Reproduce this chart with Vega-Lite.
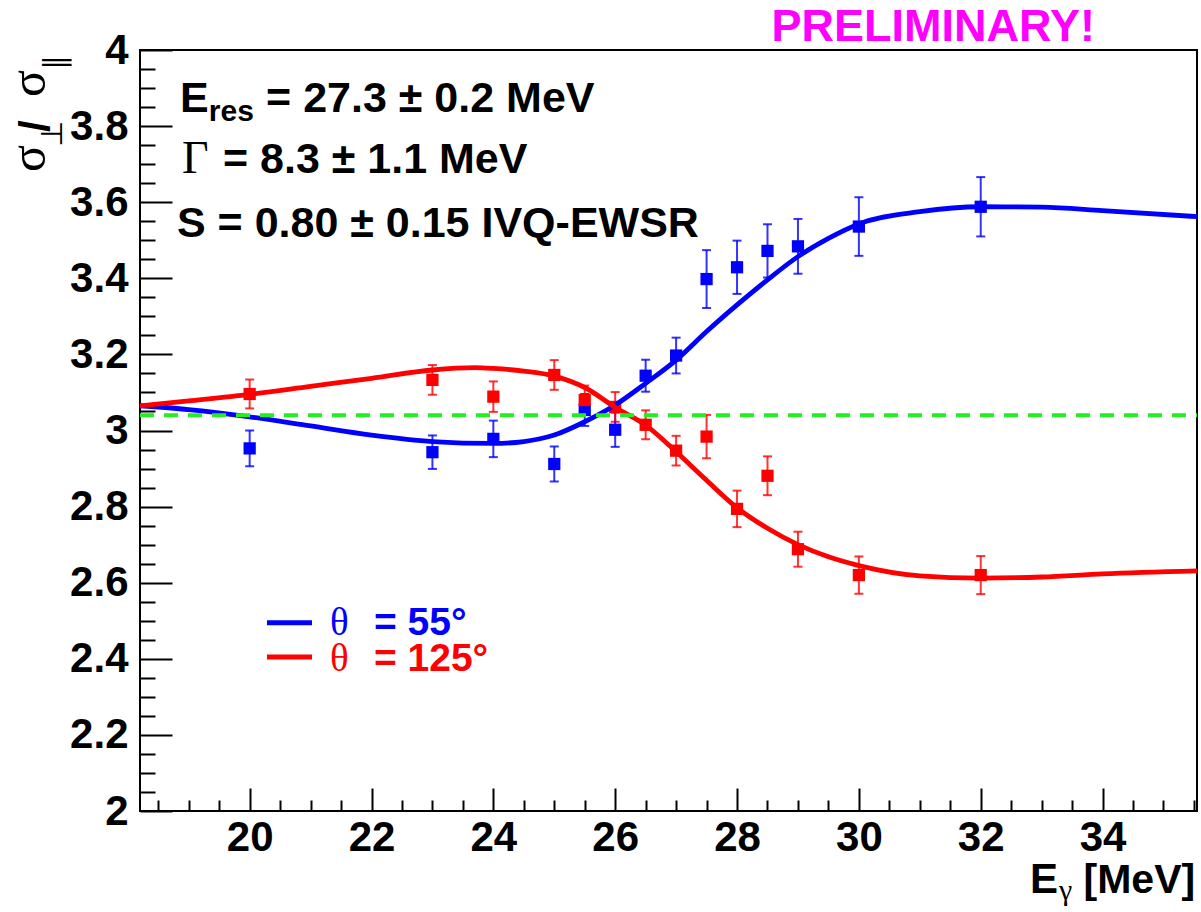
{
  "$schema": "https://vega.github.io/schema/vega-lite/v6.json",
  "width": 1057,
  "height": 761,
  "autosize": {"type": "none"},
  "padding": {"left": 140, "top": 50, "right": 4, "bottom": 101},
  "background": "white",
  "config": {
    "view": {"stroke": "black", "strokeWidth": 2},
    "font": "Liberation Sans",
    "axis": {
      "labelFont": "Liberation Sans",
      "labelFontWeight": "bold",
      "labelFontSize": 42,
      "labelColor": "black",
      "tickColor": "black",
      "tickWidth": 2,
      "domain": false,
      "grid": false,
      "labelFlush": false,
      "labelOverlap": false
    }
  },
  "datasets": {
    "points": [
      {"angle": "55", "E": 20, "r": 2.953, "lo": 2.906, "hi": 3.0},
      {"angle": "55", "E": 23, "r": 2.943, "lo": 2.899, "hi": 2.987},
      {"angle": "55", "E": 24, "r": 2.978, "lo": 2.93, "hi": 3.026},
      {"angle": "55", "E": 25, "r": 2.912, "lo": 2.866, "hi": 2.958},
      {"angle": "55", "E": 25.5, "r": 3.054, "lo": 3.012, "hi": 3.096},
      {"angle": "55", "E": 26, "r": 3.002, "lo": 2.957, "hi": 3.047},
      {"angle": "55", "E": 26.5, "r": 3.144, "lo": 3.102, "hi": 3.186},
      {"angle": "55", "E": 27, "r": 3.197, "lo": 3.15, "hi": 3.244},
      {"angle": "55", "E": 27.5, "r": 3.398, "lo": 3.322, "hi": 3.474},
      {"angle": "55", "E": 28, "r": 3.429, "lo": 3.359, "hi": 3.499},
      {"angle": "55", "E": 28.5, "r": 3.472, "lo": 3.402, "hi": 3.542},
      {"angle": "55", "E": 29, "r": 3.484, "lo": 3.412, "hi": 3.556},
      {"angle": "55", "E": 30, "r": 3.536, "lo": 3.459, "hi": 3.613},
      {"angle": "55", "E": 32, "r": 3.588, "lo": 3.51, "hi": 3.666},
      {"angle": "125", "E": 20, "r": 3.096, "lo": 3.058, "hi": 3.134},
      {"angle": "125", "E": 23, "r": 3.133, "lo": 3.094, "hi": 3.172},
      {"angle": "125", "E": 24, "r": 3.089, "lo": 3.049, "hi": 3.129},
      {"angle": "125", "E": 25, "r": 3.146, "lo": 3.107, "hi": 3.185},
      {"angle": "125", "E": 25.5, "r": 3.08, "lo": 3.042, "hi": 3.118},
      {"angle": "125", "E": 26, "r": 3.062, "lo": 3.023, "hi": 3.101},
      {"angle": "125", "E": 26.5, "r": 3.015, "lo": 2.977, "hi": 3.053},
      {"angle": "125", "E": 27, "r": 2.947, "lo": 2.908, "hi": 2.986},
      {"angle": "125", "E": 27.5, "r": 2.984, "lo": 2.927, "hi": 3.041},
      {"angle": "125", "E": 28, "r": 2.794, "lo": 2.746, "hi": 2.842},
      {"angle": "125", "E": 28.5, "r": 2.881, "lo": 2.83, "hi": 2.932},
      {"angle": "125", "E": 29, "r": 2.688, "lo": 2.642, "hi": 2.734},
      {"angle": "125", "E": 30, "r": 2.62, "lo": 2.571, "hi": 2.669},
      {"angle": "125", "E": 32, "r": 2.62, "lo": 2.57, "hi": 2.67}
    ],
    "fits": [
      {"angle": "55", "E": 18.2, "r": 3.065},
      {"angle": "55", "E": 19, "r": 3.055},
      {"angle": "55", "E": 20, "r": 3.036},
      {"angle": "55", "E": 21, "r": 3.012},
      {"angle": "55", "E": 22, "r": 2.988},
      {"angle": "55", "E": 23, "r": 2.971},
      {"angle": "55", "E": 24, "r": 2.966},
      {"angle": "55", "E": 24.5, "r": 2.971},
      {"angle": "55", "E": 25, "r": 2.988},
      {"angle": "55", "E": 25.5, "r": 3.023},
      {"angle": "55", "E": 26, "r": 3.067},
      {"angle": "55", "E": 26.5, "r": 3.124},
      {"angle": "55", "E": 27, "r": 3.185},
      {"angle": "55", "E": 27.5, "r": 3.26},
      {"angle": "55", "E": 28, "r": 3.33},
      {"angle": "55", "E": 28.5, "r": 3.396},
      {"angle": "55", "E": 29, "r": 3.457},
      {"angle": "55", "E": 29.5, "r": 3.505},
      {"angle": "55", "E": 30, "r": 3.543},
      {"angle": "55", "E": 31, "r": 3.575},
      {"angle": "55", "E": 32, "r": 3.588},
      {"angle": "55", "E": 33, "r": 3.587},
      {"angle": "55", "E": 34, "r": 3.578},
      {"angle": "55", "E": 35.55, "r": 3.562},
      {"angle": "125", "E": 18.2, "r": 3.065},
      {"angle": "125", "E": 19, "r": 3.078},
      {"angle": "125", "E": 20, "r": 3.095},
      {"angle": "125", "E": 21, "r": 3.116},
      {"angle": "125", "E": 22, "r": 3.137},
      {"angle": "125", "E": 23, "r": 3.159},
      {"angle": "125", "E": 23.7, "r": 3.165},
      {"angle": "125", "E": 24, "r": 3.163},
      {"angle": "125", "E": 24.5, "r": 3.156},
      {"angle": "125", "E": 25, "r": 3.143},
      {"angle": "125", "E": 25.5, "r": 3.113},
      {"angle": "125", "E": 26, "r": 3.061},
      {"angle": "125", "E": 26.5, "r": 3.014},
      {"angle": "125", "E": 27, "r": 2.944},
      {"angle": "125", "E": 27.5, "r": 2.869},
      {"angle": "125", "E": 28, "r": 2.797},
      {"angle": "125", "E": 28.5, "r": 2.743},
      {"angle": "125", "E": 29, "r": 2.7},
      {"angle": "125", "E": 29.5, "r": 2.668},
      {"angle": "125", "E": 30, "r": 2.645},
      {"angle": "125", "E": 31, "r": 2.618},
      {"angle": "125", "E": 32, "r": 2.612},
      {"angle": "125", "E": 33, "r": 2.615},
      {"angle": "125", "E": 34, "r": 2.623},
      {"angle": "125", "E": 35.55, "r": 2.631}
    ],
    "isotropic": [
      {"E": 18.2, "r": 3.04},
      {"E": 35.55, "r": 3.04}
    ],
    "legendKey": [
      {"angle": "55", "E": 20.284, "r": 2.495},
      {"angle": "55", "E": 21.023, "r": 2.495},
      {"angle": "125", "E": 20.284, "r": 2.405},
      {"angle": "125", "E": 21.023, "r": 2.405}
    ],
    "one": [{}]
  },
  "resolve": {"axis": {"x": "independent", "y": "independent"}},
  "layer": [
    {
      "data": {"name": "points"},
      "mark": {"type": "errorbar", "ticks": {"size": 9}, "thickness": 2, "opacity": 0.8},
      "encoding": {
        "x": {"field": "E", "type": "quantitative", "scale": {"domain": [18.2, 35.55], "nice": false, "zero": false}, "axis": null},
        "y": {"field": "lo", "type": "quantitative", "scale": {"domain": [2, 4], "nice": false, "zero": false}, "axis": null},
        "y2": {"field": "hi"},
        "color": {"field": "angle", "type": "nominal", "scale": {"domain": ["55", "125"], "range": ["#0000ff", "#ff0000"]}, "legend": null}
      }
    },
    {
      "data": {"name": "points"},
      "mark": {"type": "point", "shape": "square", "filled": true, "size": 150, "opacity": 1},
      "encoding": {
        "x": {"field": "E", "type": "quantitative", "axis": null},
        "y": {"field": "r", "type": "quantitative", "axis": null},
        "color": {"field": "angle", "type": "nominal", "legend": null}
      }
    },
    {
      "data": {"name": "fits"},
      "mark": {"type": "line", "strokeWidth": 4.8, "interpolate": "monotone"},
      "encoding": {
        "x": {"field": "E", "type": "quantitative", "axis": {"orient": "bottom", "values": [20, 22, 24, 26, 28, 30, 32, 34], "format": "d", "tickSize": -23, "labelPadding": 29, "title": null}},
        "y": {"field": "r", "type": "quantitative", "axis": {"orient": "left", "values": [2, 2.2, 2.4, 2.6, 2.8, 3, 3.2, 3.4, 3.6, 3.8, 4], "format": ".1~f", "tickSize": -32, "labelPadding": 44, "title": null}},
        "color": {"field": "angle", "type": "nominal", "legend": null}
      }
    },
    {
      "data": {"name": "isotropic"},
      "mark": {"type": "line", "color": "#22ee22", "strokeWidth": 4, "strokeDash": [14, 10]},
      "encoding": {
        "x": {"field": "E", "type": "quantitative", "axis": {"orient": "bottom", "values": [18.5, 19, 19.5, 20.5, 21, 21.5, 22.5, 23, 23.5, 24.5, 25, 25.5, 26.5, 27, 27.5, 28.5, 29, 29.5, 30.5, 31, 31.5, 32.5, 33, 33.5, 34.5, 35, 35.5], "tickSize": -11, "labels": false, "title": null}},
        "y": {"field": "r", "type": "quantitative", "axis": {"orient": "left", "values": [2.05, 2.1, 2.15, 2.25, 2.3, 2.35, 2.45, 2.5, 2.55, 2.65, 2.7, 2.75, 2.85, 2.9, 2.95, 3.05, 3.1, 3.15, 3.25, 3.3, 3.35, 3.45, 3.5, 3.55, 3.65, 3.7, 3.75, 3.85, 3.9, 3.95], "tickSize": -15, "labels": false, "title": null}}
      }
    },
    {
      "data": {"name": "legendKey"},
      "mark": {"type": "line", "strokeWidth": 5},
      "encoding": {
        "x": {"field": "E", "type": "quantitative", "axis": null},
        "y": {"field": "r", "type": "quantitative", "axis": null},
        "color": {"field": "angle", "type": "nominal", "legend": null}
      }
    },
    {
      "data": {"name": "one"},
      "mark": {"type": "text", "text": "PRELIMINARY!", "font": "Liberation Sans", "fontWeight": "bold", "fontSize": 45, "align": "right", "baseline": "alphabetic", "color": "#ff00ff"},
      "encoding": {"x": {"datum": 33.874, "type": "quantitative", "axis": null}, "y": {"datum": 4.0245, "type": "quantitative", "axis": null}}
    },
    {
      "data": {"name": "one"},
      "mark": {"type": "text", "text": "E", "font": "Liberation Sans", "fontWeight": "bold", "fontSize": 43, "align": "left", "baseline": "alphabetic", "color": "black"},
      "encoding": {"x": {"datum": 18.857, "type": "quantitative", "axis": null}, "y": {"datum": 3.8378, "type": "quantitative", "axis": null}}
    },
    {
      "data": {"name": "one"},
      "mark": {"type": "text", "text": "res", "font": "Liberation Sans", "fontWeight": "bold", "fontSize": 30, "align": "left", "baseline": "alphabetic", "color": "black"},
      "encoding": {"x": {"datum": 19.33, "type": "quantitative", "axis": null}, "y": {"datum": 3.8134, "type": "quantitative", "axis": null}}
    },
    {
      "data": {"name": "one"},
      "mark": {"type": "text", "text": "= 27.3 ± 0.2 MeV", "font": "Liberation Sans", "fontWeight": "bold", "fontSize": 43, "align": "left", "baseline": "alphabetic", "color": "black"},
      "encoding": {"x": {"datum": 20.27, "type": "quantitative", "axis": null}, "y": {"datum": 3.8378, "type": "quantitative", "axis": null}}
    },
    {
      "data": {"name": "one"},
      "mark": {"type": "text", "text": "Γ", "font": "Liberation Serif", "fontSize": 46, "align": "left", "baseline": "alphabetic", "color": "black"},
      "encoding": {"x": {"datum": 18.889, "type": "quantitative", "axis": null}, "y": {"datum": 3.6767, "type": "quantitative", "axis": null}}
    },
    {
      "data": {"name": "one"},
      "mark": {"type": "text", "text": "= 8.3 ± 1.1 MeV", "font": "Liberation Sans", "fontWeight": "bold", "fontSize": 43, "align": "left", "baseline": "alphabetic", "color": "black"},
      "encoding": {"x": {"datum": 19.562, "type": "quantitative", "axis": null}, "y": {"datum": 3.6767, "type": "quantitative", "axis": null}}
    },
    {
      "data": {"name": "one"},
      "mark": {"type": "text", "text": "S = 0.80 ± 0.15 IVQ-EWSR", "font": "Liberation Sans", "fontWeight": "bold", "fontSize": 43, "align": "left", "baseline": "alphabetic", "color": "black"},
      "encoding": {"x": {"datum": 18.807, "type": "quantitative", "axis": null}, "y": {"datum": 3.5085, "type": "quantitative", "axis": null}}
    },
    {
      "data": {"name": "one"},
      "mark": {"type": "text", "text": "θ", "font": "Liberation Serif", "fontSize": 39, "align": "left", "baseline": "alphabetic", "color": "#0000ff"},
      "encoding": {"x": {"datum": 21.32, "type": "quantitative", "axis": null}, "y": {"datum": 2.4625, "type": "quantitative", "axis": null}}
    },
    {
      "data": {"name": "one"},
      "mark": {"type": "text", "text": "= 55°", "font": "Liberation Sans", "fontWeight": "bold", "fontSize": 39, "align": "left", "baseline": "alphabetic", "color": "#0000ff"},
      "encoding": {"x": {"datum": 22.04, "type": "quantitative", "axis": null}, "y": {"datum": 2.4625, "type": "quantitative", "axis": null}}
    },
    {
      "data": {"name": "one"},
      "mark": {"type": "text", "text": "θ", "font": "Liberation Serif", "fontSize": 39, "align": "left", "baseline": "alphabetic", "color": "#ff0000"},
      "encoding": {"x": {"datum": 21.32, "type": "quantitative", "axis": null}, "y": {"datum": 2.3688, "type": "quantitative", "axis": null}}
    },
    {
      "data": {"name": "one"},
      "mark": {"type": "text", "text": "= 125°", "font": "Liberation Sans", "fontWeight": "bold", "fontSize": 39, "align": "left", "baseline": "alphabetic", "color": "#ff0000"},
      "encoding": {"x": {"datum": 22.04, "type": "quantitative", "axis": null}, "y": {"datum": 2.3688, "type": "quantitative", "axis": null}}
    },
    {
      "data": {"name": "one"},
      "mark": {"type": "text", "text": "E", "font": "Liberation Sans", "fontWeight": "bold", "fontSize": 42, "align": "left", "baseline": "alphabetic", "color": "black"},
      "encoding": {"x": {"datum": 32.807, "type": "quantitative", "axis": null}, "y": {"datum": 1.7845, "type": "quantitative", "axis": null}}
    },
    {
      "data": {"name": "one"},
      "mark": {"type": "text", "text": "γ", "font": "Liberation Serif", "fontSize": 30, "align": "left", "baseline": "alphabetic", "color": "black"},
      "encoding": {"x": {"datum": 33.283, "type": "quantitative", "axis": null}, "y": {"datum": 1.766, "type": "quantitative", "axis": null}}
    },
    {
      "data": {"name": "one"},
      "mark": {"type": "text", "text": "[MeV]", "font": "Liberation Sans", "fontWeight": "bold", "fontSize": 41, "align": "right", "baseline": "alphabetic", "color": "black"},
      "encoding": {"x": {"datum": 35.52, "type": "quantitative", "axis": null}, "y": {"datum": 1.7845, "type": "quantitative", "axis": null}}
    },
    {
      "data": {"name": "one"},
      "mark": {"type": "text", "text": "σ", "font": "Liberation Serif", "fontSize": 50, "angle": 270, "align": "left", "baseline": "alphabetic", "color": "black"},
      "encoding": {"x": {"datum": 16.641, "type": "quantitative", "axis": null}, "y": {"datum": 3.6794, "type": "quantitative", "axis": null}}
    },
    {
      "data": {"name": "one"},
      "mark": {"type": "text", "text": "⊥", "font": "DejaVu Sans", "fontSize": 30, "angle": 270, "align": "left", "baseline": "alphabetic", "color": "black"},
      "encoding": {"x": {"datum": 16.919, "type": "quantitative", "axis": null}, "y": {"datum": 3.7451, "type": "quantitative", "axis": null}}
    },
    {
      "data": {"name": "one"},
      "mark": {"type": "text", "text": "/", "font": "Liberation Sans", "fontWeight": "bold", "fontSize": 42, "angle": 270, "align": "left", "baseline": "alphabetic", "color": "black"},
      "encoding": {"x": {"datum": 16.70, "type": "quantitative", "axis": null}, "y": {"datum": 3.7845, "type": "quantitative", "axis": null}}
    },
    {
      "data": {"name": "one"},
      "mark": {"type": "text", "text": "σ", "font": "Liberation Serif", "fontSize": 50, "angle": 270, "align": "left", "baseline": "alphabetic", "color": "black"},
      "encoding": {"x": {"datum": 16.641, "type": "quantitative", "axis": null}, "y": {"datum": 3.8765, "type": "quantitative", "axis": null}}
    },
    {
      "data": {"name": "one"},
      "mark": {"type": "text", "text": "∥", "font": "DejaVu Sans", "fontSize": 30, "angle": 270, "align": "left", "baseline": "alphabetic", "color": "black"},
      "encoding": {"x": {"datum": 16.969, "type": "quantitative", "axis": null}, "y": {"datum": 3.9474, "type": "quantitative", "axis": null}}
    }
  ]
}
